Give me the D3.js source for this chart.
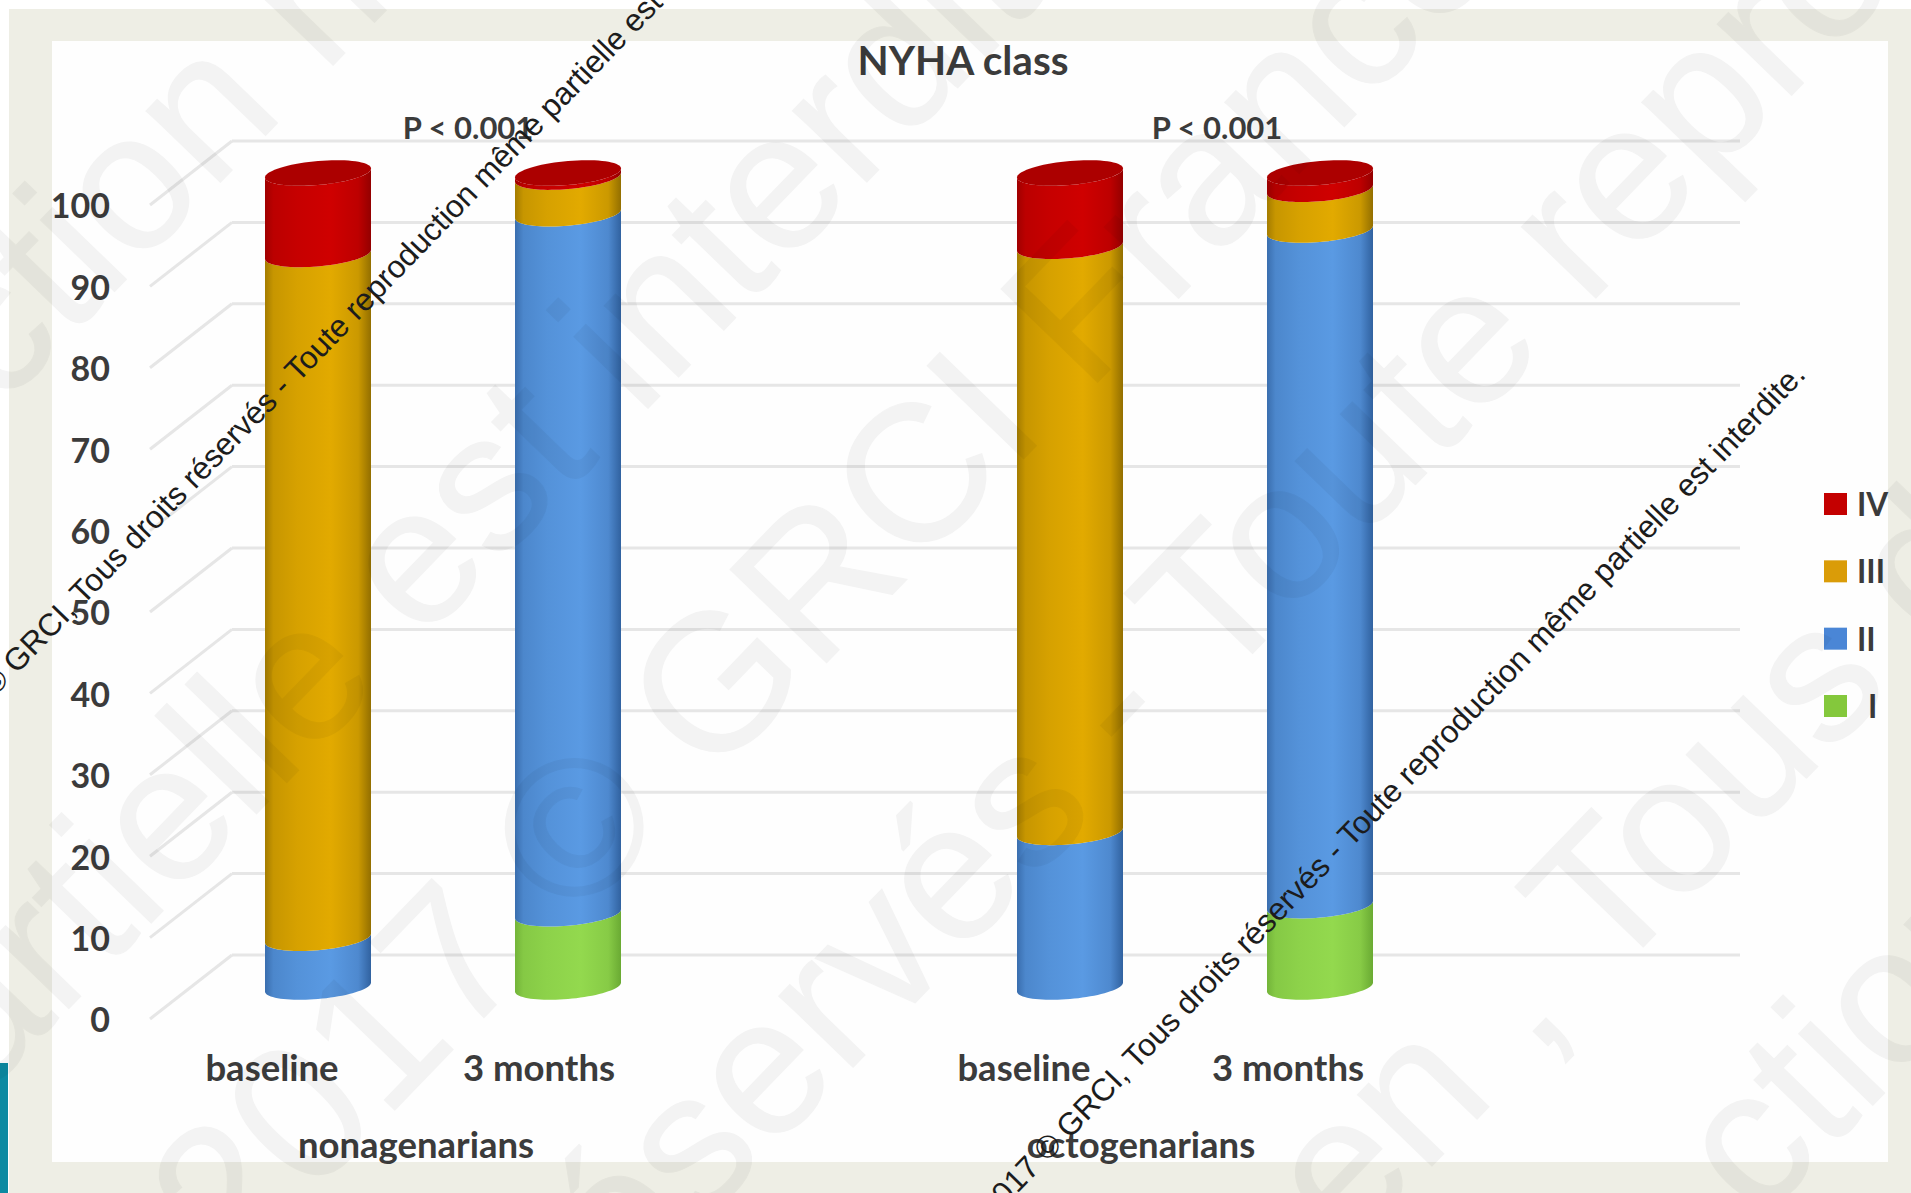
<!DOCTYPE html>
<html>
<head>
<meta charset="utf-8">
<script src="https://cdn.jsdelivr.net/npm/d3@7/dist/d3.min.js"></script>
<style>
  html, body { margin: 0; padding: 0; background: #fff; overflow: hidden; }
  text { font-family: Lato, "Open Sans", sans-serif; }
</style>
</head>
<body>
<svg id="chart" width="1911" height="1193"></svg>
<script>
// NYHA class share (%) per cohort and time point
const groups = ["nonagenarians", "octogenarians"];
const timepoints = ["baseline", "3 months"];
const classes = ["I", "II", "III", "IV"];
const classI = [0, 9, 0, 10];
const classII = [6, 86, 19, 83];
const classIII = [84, 4.5, 72, 5];
const classIV = [10, 0.5, 9, 2];
const pLabels = ["P < 0.001", "P < 0.001"];
const yTicks = [0, 10, 20, 30, 40, 50, 60, 70, 80, 90, 100];
const chartTitle = "NYHA class";
const noticeText = "2017 © GRCI, Tous droits réservés - Toute reproduction même partielle est interdite.";
const paleText = [
  "ction même",
  "partielle est interdite.",
  "2017 © GRCI France, Tous droits",
  "réservés - Toute reproduction",
  "en , Tous droits",
  "ction"
];

const W = 1911, H = 1193;
const svg = d3.select("#chart");
const defs = svg.append("defs");

// Page frame and plot panel
svg.append("rect").attr("x", 9).attr("y", 9).attr("width", W - 9).attr("height", H - 9).attr("fill", "#eeeee5");
svg.append("rect").attr("x", 52).attr("y", 41).attr("width", 1836).attr("height", 1121).attr("fill", "#fefefe");
svg.append("rect").attr("x", 0).attr("y", 1063).attr("width", 8).attr("height", 130).attr("fill", "#0c8aa2");

// Scales: rear wall, mid-depth plane of the cylinders, and front edge of the floor
const depthY = 64;
const yBack = d3.scaleLinear().domain([0, 100]).range([955, 141]);
const yMid = v => yBack(v) + depthY / 2;
const yFront = d3.scaleLinear().domain([0, 100]).range([955 + depthY, 141 + depthY]);
const xGroup = d3.scalePoint().domain(groups).range([443, 1195]);
const xTime = d3.scalePoint().domain(timepoints).range([-125, 125]);
const xCenter = i => xGroup(groups[i >> 1]) + xTime(timepoints[i % 2]);
const radiusX = 53, tiltY = -4.5, radiusY = 12;

// Wall grid
const grid = svg.append("g").attr("fill", "none").attr("stroke", "#e6e6e6").attr("stroke-width", 3);
grid.selectAll("line.h").data(yTicks).join("line").attr("class", "h")
  .attr("x1", 232).attr("x2", 1740)
  .attr("y1", d => yBack(d)).attr("y2", d => yBack(d));
grid.selectAll("line.d").data(yTicks).join("line").attr("class", "d")
  .attr("x1", 232).attr("x2", 150)
  .attr("y1", d => yBack(d)).attr("y2", d => yFront(d));

// Value axis, drawn on the front plane
const darkText = "#3b3b3b";
const axis = svg.append("g").attr("transform", "translate(110,2)")
  .call(d3.axisLeft(yFront).tickValues(yTicks).tickSize(0).tickPadding(0));
axis.select(".domain").remove();
axis.selectAll("text")
  .attr("font-size", 34).attr("font-weight", 700).attr("fill", darkText)
  .style("font-family", "Lato, sans-serif");

// Stack the classes, bottom to top
const rows = d3.range(4).map(i => ({ I: classI[i], II: classII[i], III: classIII[i], IV: classIV[i] }));
const stacked = d3.stack().keys(classes)(rows);

const classColor = d3.scaleOrdinal().domain(classes).range(["#93d94e", "#5a9ae3", "#e2aa00", "#cf0000"]);
const classEdge = d3.scaleOrdinal().domain(classes).range(["#68a832", "#2f5f9c", "#8f6c00", "#900000"]);
const legendColor = d3.scaleOrdinal().domain(classes).range(["#84c83c", "#4a86d6", "#da9c08", "#c40000"]);

classes.forEach(k => {
  const mix = d3.interpolateRgb(classEdge(k), classColor(k));
  const g = defs.append("linearGradient").attr("id", "shade" + k);
  g.append("stop").attr("offset", "0%").attr("stop-color", mix(0.25));
  g.append("stop").attr("offset", "8%").attr("stop-color", mix(0.68));
  g.append("stop").attr("offset", "30%").attr("stop-color", mix(0.86));
  g.append("stop").attr("offset", "62%").attr("stop-color", classColor(k));
  g.append("stop").attr("offset", "88%").attr("stop-color", mix(0.72));
  g.append("stop").attr("offset", "100%").attr("stop-color", mix(0.05));
});

// Front arc of the tilted cylinder section, sampled left to right
const arcPoints = (cx, cy) => d3.range(0, 41).map(n => {
  const t = Math.PI - Math.PI * n / 40;
  return [cx + radiusX * Math.cos(t), cy + tiltY * Math.cos(t) + radiusY * Math.sin(t)];
});
const linePath = d3.line();

const bars = svg.append("g");
stacked.forEach(layer => {
  bars.selectAll(null).data(layer.filter(d => d[1] > d[0])).join("path")
    .attr("fill", `url(#shade${layer.key})`)
    .attr("d", d => {
      const i = rows.indexOf(d.data);
      const top = arcPoints(xCenter(i), yMid(d[1]));
      const bottom = arcPoints(xCenter(i), yMid(d[0])).reverse();
      return linePath(top.concat(bottom)) + "Z";
    });
});

// Dark cap on each cylinder
bars.selectAll("path.cap").data(d3.range(4)).join("path").attr("class", "cap")
  .attr("fill", "#ac0000")
  .attr("d", i => {
    const cy = yMid(100);
    const pts = d3.range(0, 73).map(n => {
      const t = 2 * Math.PI * n / 72;
      return [xCenter(i) + radiusX * Math.cos(t), cy + tiltY * Math.cos(t) + radiusY * Math.sin(t)];
    });
    return linePath(pts) + "Z";
  });

// Title and significance labels
svg.append("text").attr("x", 963).attr("y", 59).attr("text-anchor", "middle")
  .attr("dominant-baseline", "central").attr("font-size", 40.5).attr("font-weight", 700).attr("fill", darkText)
  .text(chartTitle);
svg.selectAll("text.p").data(pLabels).join("text").attr("class", "p")
  .attr("x", (d, i) => [468, 1217][i]).attr("y", 127).attr("text-anchor", "middle")
  .attr("dominant-baseline", "central").attr("font-size", 31).attr("font-weight", 700).attr("fill", darkText)
  .text(d => d);

// Category labels beneath the floor; the perspective pushes each one off its cylinder
const labelShift = [-46, -29, -46, -32];
svg.selectAll("text.cat").data(d3.range(4)).join("text").attr("class", "cat")
  .attr("x", i => xCenter(i) + labelShift[i]).attr("y", 1067).attr("text-anchor", "middle")
  .attr("dominant-baseline", "central").attr("font-size", 36.5).attr("font-weight", 700).attr("fill", darkText)
  .text(i => timepoints[i % 2]);
svg.selectAll("text.grp").data(groups).join("text").attr("class", "grp")
  .attr("x", d => xGroup(d) + (d === groups[0] ? -27 : -54)).attr("y", 1144).attr("text-anchor", "middle")
  .attr("dominant-baseline", "central").attr("font-size", 36.5).attr("font-weight", 700).attr("fill", darkText)
  .text(d => d);

// Legend, highest class first
const legendOrder = classes.slice().reverse();
const legendY = d3.scalePoint().domain(legendOrder).range([504, 706]);
const legend = svg.append("g");
legend.selectAll("rect").data(legendOrder).join("rect")
  .attr("x", 1824).attr("y", d => legendY(d) - 11).attr("width", 23).attr("height", 22)
  .attr("fill", d => legendColor(d));
legend.selectAll("text").data(legendOrder).join("text")
  .attr("x", d => d === "I" ? 1868 : 1857).attr("y", d => legendY(d))
  .attr("dominant-baseline", "central").attr("font-size", 31.5).attr("font-weight", 700).attr("fill", darkText)
  .text(d => d);

// Large pale diagonal copyright lines across the whole page
const paleAlong = [-295, -908, -756, -568, 34, 341];
const paleAcross = [285, 750, 1055, 1355, 1840, 2115];
svg.append("g").attr("opacity", 0.04).selectAll("text").data(paleText).join("text")
  .attr("transform", "rotate(-46)")
  .attr("x", (d, i) => paleAlong[i]).attr("y", (d, i) => paleAcross[i])
  .attr("font-size", 195)
  .attr("fill", "#000").attr("stroke", "#000").attr("stroke-width", 1)
  .style("font-family", "'Liberation Sans', sans-serif")
  .text(d => d);

// Small black diagonal notices on top of everything
const noticeEnds = [[754, -89], [1807, 376]];
svg.append("g").selectAll("text").data(noticeEnds).join("text")
  .attr("transform", d => `translate(${d[0]},${d[1]}) rotate(-46)`)
  .attr("text-anchor", "end")
  .attr("font-size", 31.5).attr("fill", "#1c1c1c")
  .style("font-family", "'Liberation Sans', sans-serif")
  .text(noticeText);
</script>
</body>
</html>
